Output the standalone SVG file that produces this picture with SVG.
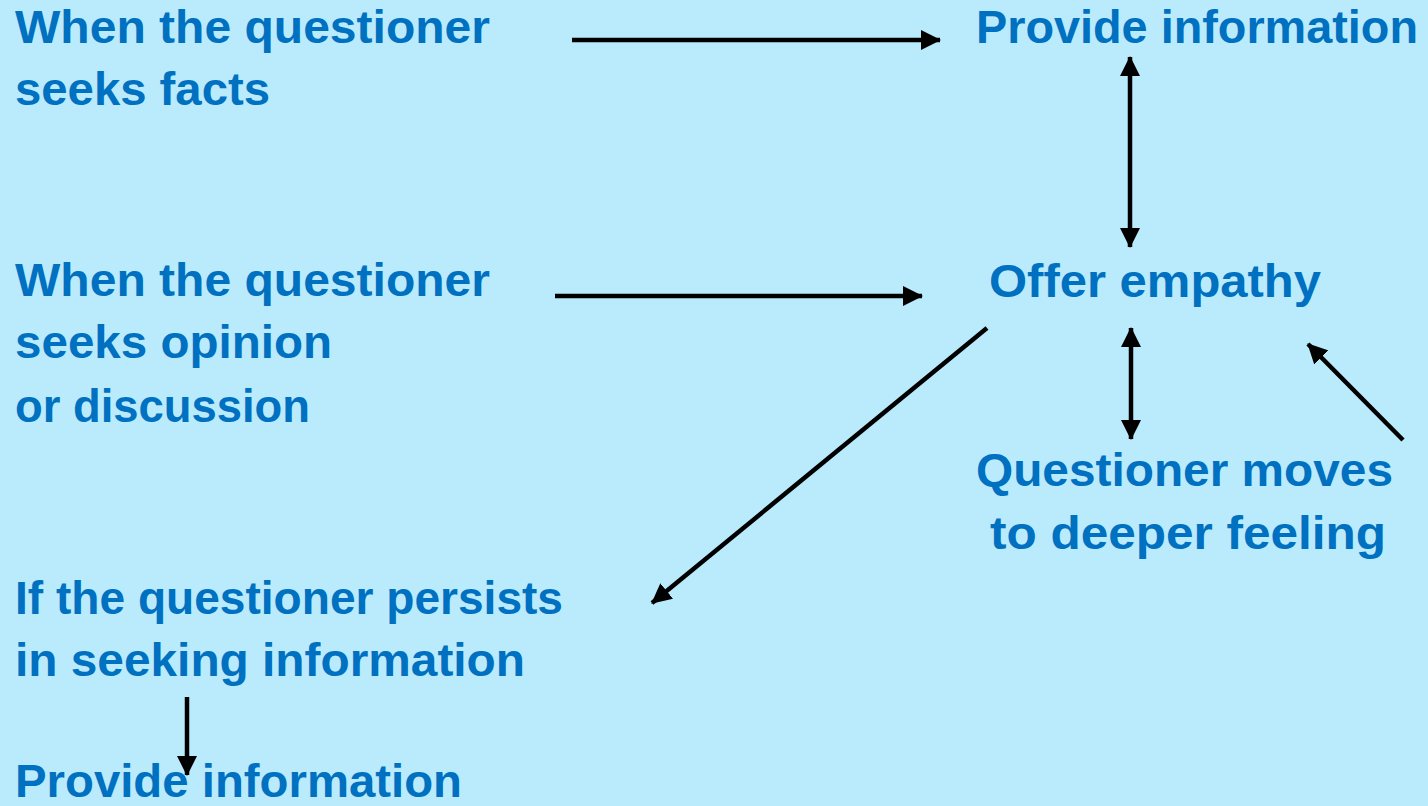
<svg xmlns="http://www.w3.org/2000/svg" width="1428" height="806" viewBox="0 0 1428 806">
<defs>
<marker id="ah" viewBox="0 0 20 20" refX="19" refY="10" markerWidth="20" markerHeight="20" markerUnits="userSpaceOnUse" orient="auto-start-reverse">
<path d="M0,0 L20,10 L0,20 Z" fill="#000"/>
</marker>
<style>
.t{font-family:"Liberation Sans",Arial,sans-serif;font-weight:bold;font-size:46px;fill:#0070C0}
.c{stroke:#000;stroke-width:4.5;fill:none}
</style>
</defs>
<rect x="0" y="0" width="1428" height="806" fill="#BAEBFC"/>
<g id="n-facts">
<text class="t" x="15" y="43" textLength="475" lengthAdjust="spacingAndGlyphs">When the questioner</text>
<text class="t" x="15" y="105" textLength="255" lengthAdjust="spacingAndGlyphs">seeks facts</text>
</g>
<g id="n-provide-top">
<text class="t" x="976" y="43" textLength="442" lengthAdjust="spacingAndGlyphs">Provide information</text>
</g>
<g id="n-opinion">
<text class="t" x="15" y="296" textLength="475" lengthAdjust="spacingAndGlyphs">When the questioner</text>
<text class="t" x="15" y="358" textLength="317" lengthAdjust="spacingAndGlyphs">seeks opinion</text>
<text class="t" x="15" y="422" textLength="295" lengthAdjust="spacingAndGlyphs">or discussion</text>
</g>
<g id="n-empathy">
<text class="t" x="989" y="297" textLength="332" lengthAdjust="spacingAndGlyphs">Offer empathy</text>
</g>
<g id="n-deeper">
<text class="t" x="976" y="486" textLength="417" lengthAdjust="spacingAndGlyphs">Questioner moves</text>
<text class="t" x="990" y="549" textLength="396" lengthAdjust="spacingAndGlyphs">to deeper feeling</text>
</g>
<g id="n-persists">
<text class="t" x="15" y="614" textLength="548" lengthAdjust="spacingAndGlyphs">If the questioner persists</text>
<text class="t" x="15" y="676" textLength="510" lengthAdjust="spacingAndGlyphs">in seeking information</text>
</g>
<g id="n-provide-bottom">
<text class="t" x="15" y="797" textLength="447" lengthAdjust="spacingAndGlyphs">Provide information</text>
</g>
<g id="connectors">
<line class="c" x1="572" y1="40" x2="940" y2="40" marker-end="url(#ah)"/>
<line class="c" x1="555" y1="296" x2="922" y2="296" marker-end="url(#ah)"/>
<line class="c" x1="1130" y1="57" x2="1130" y2="247" marker-start="url(#ah)" marker-end="url(#ah)"/>
<line class="c" x1="1131" y1="328" x2="1131" y2="439" marker-start="url(#ah)" marker-end="url(#ah)"/>
<line class="c" x1="1403" y1="440" x2="1308" y2="344" marker-end="url(#ah)"/>
<line class="c" x1="987" y1="328" x2="652" y2="603" marker-end="url(#ah)"/>
<line class="c" x1="187" y1="697" x2="187" y2="775" marker-end="url(#ah)"/>
</g>
</svg>
